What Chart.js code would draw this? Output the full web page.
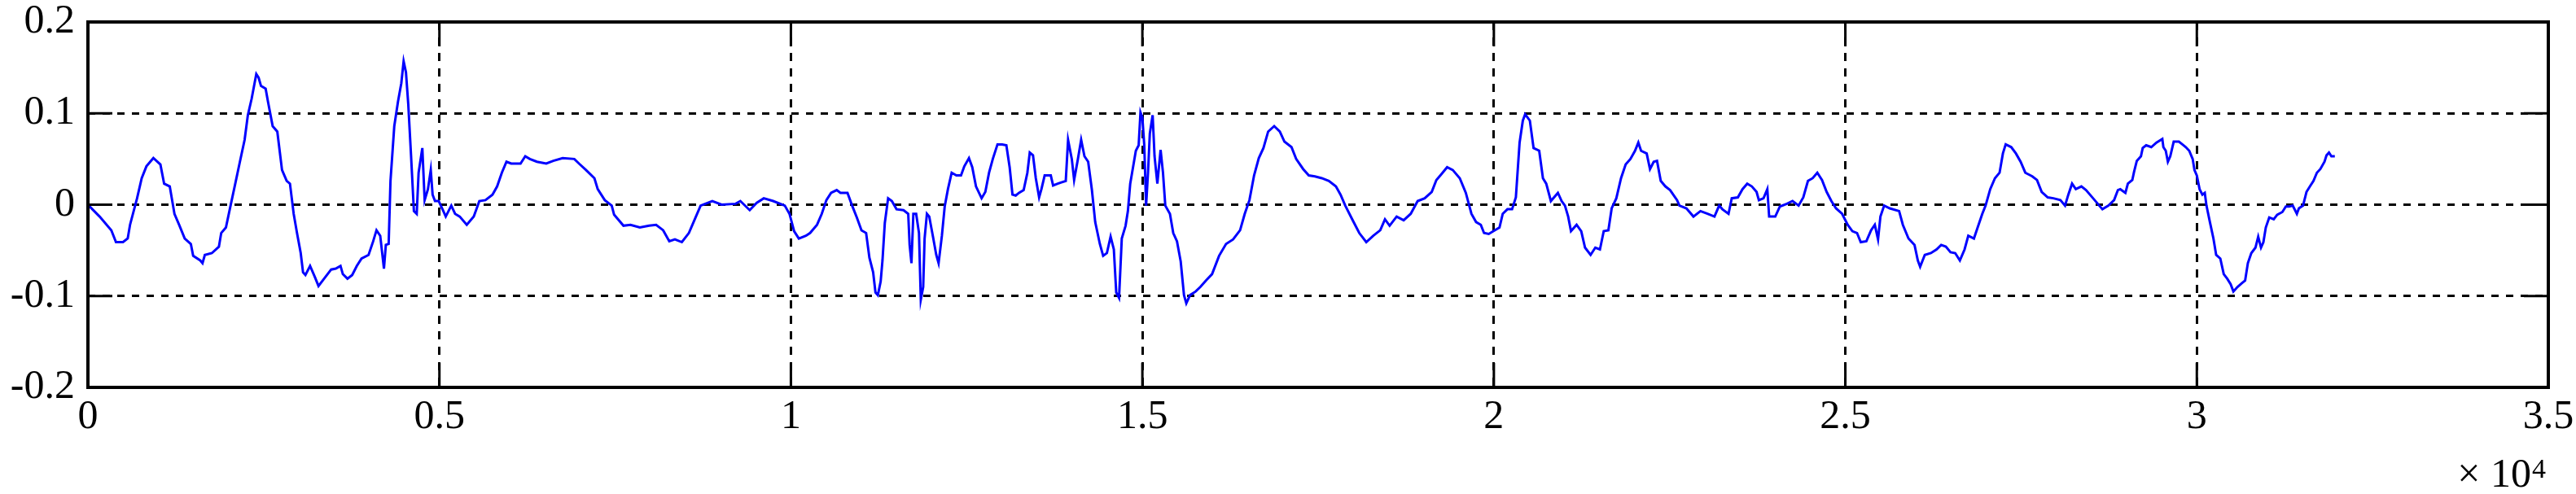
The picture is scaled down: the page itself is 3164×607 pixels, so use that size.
<!DOCTYPE html>
<html>
<head>
<meta charset="utf-8">
<script src="https://cdn.jsdelivr.net/npm/chart.js@4.4.1/dist/chart.umd.min.js"></script>
<style>
  html, body { margin: 0; padding: 0; background: #fff; }
  #wrap { width: 3164px; height: 607px; }
</style>
</head>
<body>
<div id="wrap"><canvas id="sig" width="3164" height="607"></canvas></div>
<script>
// sample index (x) and amplitude (y)
const sampleIndex = [
  0,166,333,399,499,566,599,699,765,832,
  931,1031,1084,1164,1231,1297,1377,1464,1497,1597,
  1630,1663,1763,1863,1896,1963,2029,2096,2162,2229,
  2275,2329,2395,2428,2462,2528,2561,2628,2694,2761,
  2828,2874,2927,2974,3027,3060,3094,3160,3227,3280,
  3360,3460,3526,3593,3626,3692,3759,3825,3892,3992,
  4058,4105,4158,4211,4238,4278,4304,4358,4411,4458,
  4491,4524,4557,4597,4637,4677,4704,4757,4790,4837,
  4877,4903,4937,4990,5056,5090,5169,5223,5289,5389,
  5489,5568,5655,5755,5821,5888,5954,6021,6154,6221,
  6287,6387,6520,6620,6753,6919,6986,7085,7205,7252,
  7352,7451,7485,7618,7718,7851,7984,8083,8183,8270,
  8350,8449,8549,8649,8716,8882,9015,9214,9281,9414,
  9514,9614,9747,9913,9980,10046,10113,10213,10273,10372,
  10439,10505,10572,10652,10705,10805,10871,10938,11004,11070,
  11117,11170,11203,11237,11277,11303,11336,11383,11436,11503,
  11602,11669,11689,11715,11742,11782,11822,11848,11882,11902,
  11935,11968,12021,12068,12101,12148,12188,12234,12287,12354,
  12420,12467,12533,12580,12633,12713,12766,12819,12872,12939,
  13005,13065,13112,13152,13198,13245,13311,13364,13398,13444,
  13484,13531,13564,13610,13697,13730,13797,13830,13910,13943,
  13996,14029,14083,14129,14176,14229,14282,14329,14395,14442,
  14495,14548,14594,14628,14668,14707,14761,14794,14827,14867,
  14907,14947,14973,15000,15027,15053,15080,15106,15146,15173,
  15213,15259,15293,15326,15392,15439,15492,15545,15592,15625,
  15678,15758,15825,15904,15991,16091,16190,16290,16390,16456,
  16523,16589,16656,16722,16789,16875,16955,17021,17121,17188,
  17287,17367,17454,17553,17653,17753,17819,17886,17985,18085,
  18185,18285,18384,18451,18517,18617,18717,18817,18916,19016,
  19116,19182,19249,19335,19415,19515,19601,19681,19747,19814,
  19860,19927,19993,20080,20126,20193,20259,20313,20366,20412,
  20445,20512,20565,20645,20698,20745,20811,20911,20964,21011,
  21057,21097,21177,21243,21297,21376,21443,21509,21563,21629,
  21676,21742,21809,21875,21942,22008,22055,22094,22174,22221,
  22274,22321,22374,22440,22507,22606,22640,22739,22839,22939,
  23039,23138,23205,23251,23338,23384,23471,23537,23604,23670,
  23737,23770,23836,23890,23916,24003,24069,24169,24249,24335,
  24402,24468,24535,24601,24668,24734,24801,24867,24954,25033,
  25100,25166,25219,25299,25366,25419,25465,25499,25552,25632,
  25765,25818,25898,25984,26031,26064,26130,26217,26297,26363,
  26430,26496,26563,26629,26696,26749,26829,26882,26948,26995,
  27061,27128,27194,27241,27281,27360,27427,27493,27560,27660,
  27726,27793,27879,27959,28059,28125,28172,28225,28278,28358,
  28424,28524,28657,28743,28823,28877,28911,28984,29019,29082,
  29107,29146,29205,29230,29279,29352,29426,29509,29524,29558,
  29588,29622,29671,29745,29794,29843,29892,29941,29966,30000,
  30039,30079,30113,30137,30186,30236,30275,30334,30383,30432,
  30481,30520,30579,30638,30687,30726,30775,30834,30873,30913,
  30947,30981,31030,31094,31143,31217,31266,31315,31364,31423,
  31452,31511,31560,31609,31659,31708,31757,31816,31845,31880,
  31914,31963
];
const amplitude = [
  0,-0.013,-0.028,-0.041,-0.041,-0.037,-0.022,0.007,0.029,0.042,
  0.051,0.044,0.023,0.020,-0.010,-0.022,-0.037,-0.043,-0.056,-0.061,
  -0.064,-0.055,-0.053,-0.046,-0.031,-0.025,-0.001,0.023,0.047,0.071,
  0.098,0.116,0.143,0.139,0.130,0.127,0.113,0.086,0.080,0.038,
  0.026,0.023,-0.010,-0.031,-0.053,-0.074,-0.077,-0.067,-0.079,-0.089,
  -0.081,-0.071,-0.070,-0.067,-0.076,-0.081,-0.077,-0.067,-0.059,-0.055,
  -0.040,-0.028,-0.034,-0.070,-0.044,-0.043,0.026,0.086,0.113,0.133,
  0.157,0.145,0.110,0.053,-0.007,-0.010,0.035,0.062,0.005,0.017,
  0.038,0.011,0.004,0.004,-0.007,-0.013,-0.001,-0.010,-0.013,-0.022,
  -0.013,0.004,0.005,0.011,0.020,0.035,0.047,0.045,0.045,0.053,
  0.050,0.047,0.045,0.048,0.051,0.050,0.045,0.038,0.029,0.017,
  0.005,-0.001,-0.011,-0.023,-0.022,-0.025,-0.023,-0.022,-0.028,-0.040,
  -0.038,-0.041,-0.031,-0.013,-0.001,0.004,0,0.001,0.004,-0.006,
  0.002,0.007,0.004,-0.001,-0.010,-0.029,-0.037,-0.034,-0.031,-0.022,
  -0.010,0.005,0.013,0.016,0.013,0.013,-0.001,-0.014,-0.028,-0.031,
  -0.058,-0.074,-0.096,-0.099,-0.084,-0.061,-0.020,0.007,0.004,-0.005,
  -0.006,-0.010,-0.044,-0.064,-0.010,-0.010,-0.031,-0.104,-0.090,-0.037,
  -0.010,-0.013,-0.035,-0.055,-0.064,-0.034,-0.002,0.017,0.035,0.032,
  0.032,0.042,0.051,0.041,0.020,0.007,0.014,0.035,0.050,0.066,
  0.066,0.065,0.041,0.011,0.010,0.013,0.016,0.035,0.057,0.054,
  0.029,0.008,0.017,0.032,0.032,0.021,0.023,0.024,0.026,0.071,
  0.050,0.027,0.050,0.071,0.053,0.047,0.016,-0.019,-0.043,-0.056,
  -0.053,-0.035,-0.049,-0.096,-0.102,-0.037,-0.023,-0.007,0.023,0.041,
  0.059,0.065,0.101,0.095,0.065,-0.001,0.035,0.078,0.098,0.053,
  0.023,0.060,0.035,-0.001,-0.010,-0.031,-0.040,-0.062,-0.099,-0.108,
  -0.099,-0.095,-0.090,-0.083,-0.076,-0.056,-0.043,-0.038,-0.028,-0.010,
  0.005,0.032,0.051,0.062,0.080,0.086,0.080,0.069,0.063,0.050,
  0.039,0.032,0.031,0.029,0.026,0.020,0.011,-0.001,-0.016,-0.031,
  -0.041,-0.034,-0.028,-0.016,-0.023,-0.013,-0.017,-0.010,0.004,0.007,
  0.014,0.027,0.033,0.041,0.038,0.029,0.013,-0.010,-0.019,-0.022,
  -0.031,-0.032,-0.029,-0.025,-0.010,-0.005,-0.005,0.008,0.068,0.092,
  0.099,0.092,0.062,0.059,0.029,0.023,0.004,0.013,0.004,-0.001,
  -0.013,-0.029,-0.022,-0.029,-0.047,-0.055,-0.047,-0.049,-0.029,-0.028,
  -0.004,0.007,0.029,0.044,0.050,0.059,0.068,0.059,0.056,0.039,
  0.047,0.048,0.026,0.020,0.016,0.005,-0.001,-0.004,-0.013,-0.007,
  -0.010,-0.013,-0.001,-0.005,-0.010,0.007,0.008,0.017,0.023,0.020,
  0.014,0.005,0.007,0.017,-0.013,-0.013,-0.002,0.001,0.004,-0.001,
  0.008,0.026,0.029,0.035,0.027,0.014,0.004,-0.004,-0.010,-0.022,
  -0.029,-0.031,-0.041,-0.040,-0.028,-0.022,-0.038,-0.013,-0.001,-0.004,
  -0.007,-0.022,-0.037,-0.044,-0.061,-0.068,-0.055,-0.053,-0.049,-0.044,
  -0.046,-0.052,-0.053,-0.061,-0.049,-0.034,-0.037,-0.025,-0.010,-0.001,
  0.017,0.029,0.035,0.056,0.066,0.063,0.056,0.047,0.035,0.031,
  0.027,0.014,0.008,0.007,0.005,-0.001,0.011,0.023,0.017,0.020,
  0.016,0.007,-0.005,-0.001,0.005,0.016,0.017,0.013,0.023,0.027,
  0.036,0.048,0.053,0.062,0.065,0.063,0.068,0.072,0.063,0.059,
  0.047,0.053,0.069,0.069,0.066,0.063,0.059,0.050,0.038,0.032,
  0.017,0.011,0.013,-0.001,-0.019,-0.037,-0.055,-0.059,-0.076,-0.081,
  -0.087,-0.095,-0.090,-0.086,-0.083,-0.064,-0.053,-0.047,-0.035,-0.047,
  -0.041,-0.025,-0.014,-0.016,-0.011,-0.008,-0.002,-0.002,-0.001,-0.010,
  -0.004,-0.001,0.014,0.020,0.026,0.035,0.039,0.047,0.054,0.057,
  0.053,0.053
];

const xTicks = [0, 5000, 10000, 15000, 20000, 25000, 30000, 35000];
const xTickLabels = ['0', '0.5', '1', '1.5', '2', '2.5', '3', '3.5'];
const yTicks = [-0.2, -0.1, 0, 0.1, 0.2];
const yTickLabels = ['-0.2', '-0.1', '0', '0.1', '0.2'];

const FONT = "'Liberation Serif', 'Times New Roman', serif";
const TICK_LEN = 30;

// box, inward ticks and the x10^4 multiplier (matlab look)
const matlabFrame = {
  id: 'matlabFrame',
  afterDraw(chart) {
    const { ctx, chartArea: a, scales: { x, y } } = chart;
    ctx.save();
    ctx.setLineDash([]);
    ctx.strokeStyle = '#000';
    ctx.lineWidth = 3;
    ctx.beginPath();
    x.ticks.forEach(t => {
      const px = x.getPixelForValue(t.value);
      ctx.moveTo(px, a.bottom); ctx.lineTo(px, a.bottom - TICK_LEN);
      ctx.moveTo(px, a.top); ctx.lineTo(px, a.top + TICK_LEN);
    });
    y.ticks.forEach(t => {
      const py = y.getPixelForValue(t.value);
      ctx.moveTo(a.left, py); ctx.lineTo(a.left + TICK_LEN, py);
      ctx.moveTo(a.right, py); ctx.lineTo(a.right - TICK_LEN, py);
    });
    ctx.stroke();
    ctx.lineWidth = 4;
    ctx.strokeRect(a.left, a.top, a.right - a.left, a.bottom - a.top);

    ctx.fillStyle = '#000';
    ctx.textBaseline = 'alphabetic';
    ctx.font = '50px ' + FONT;
    ctx.textAlign = 'right';
    ctx.fillText('\u00d7 10', a.right - 21, a.bottom + 122);
    ctx.font = '34px ' + FONT;
    ctx.textAlign = 'left';
    ctx.fillText('4', a.right - 20, a.bottom + 111);
    ctx.restore();
  }
};

const points = sampleIndex.map((v, i) => ({ x: v, y: amplitude[i] }));

new Chart(document.getElementById('sig').getContext('2d'), {
  type: 'line',
  data: {
    datasets: [{
      data: points,
      borderColor: '#0000ff',
      borderWidth: 3,
      pointRadius: 0,
      tension: 0,
      fill: false
    }]
  },
  options: {
    responsive: false,
    animation: false,
    events: [],
    layout: { padding: { left: 0, right: 34, top: 27, bottom: 0 } },
    plugins: { legend: { display: false }, tooltip: { enabled: false } },
    scales: {
      x: {
        type: 'linear',
        min: 0,
        max: 35000,
        afterBuildTicks: axis => { axis.ticks = xTicks.map(v => ({ value: v })); },
        afterFit: axis => {
          axis.height = 131;
          // don't let the edge labels eat into the plot box
          axis.paddingLeft = 0;
          axis.paddingRight = 0;
        },
        grid: { color: '#000', lineWidth: 3, drawTicks: false },
        border: { display: false, dash: [10, 9] },
        ticks: {
          autoSkip: false,
          maxRotation: 0,
          padding: 7,
          color: '#000',
          font: { family: FONT, size: 50 },
          callback: (v, i) => xTickLabels[i]
        }
      },
      y: {
        type: 'linear',
        min: -0.2,
        max: 0.2,
        afterBuildTicks: axis => { axis.ticks = yTicks.map(v => ({ value: v })); },
        afterFit: axis => {
          axis.width = 108;
          axis.paddingTop = 0;
          axis.paddingBottom = 0;
        },
        grid: { color: '#000', lineWidth: 3, drawTicks: false },
        border: { display: false, dash: [9, 9] },
        ticks: {
          padding: 16,
          color: '#000',
          font: { family: FONT, size: 50 },
          callback: (v, i) => yTickLabels[i]
        }
      }
    }
  },
  plugins: [matlabFrame]
});
</script>
</body>
</html>
